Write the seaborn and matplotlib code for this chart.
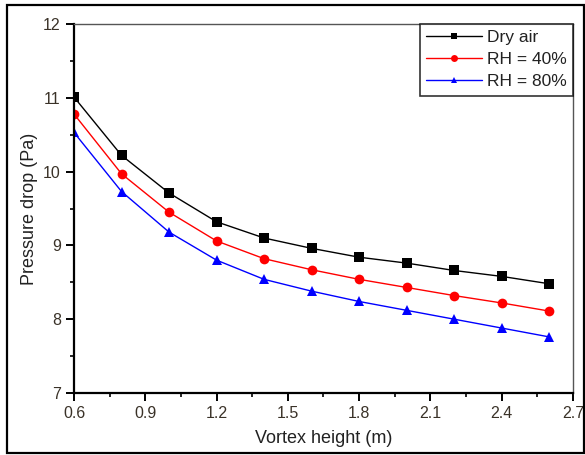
import matplotlib
matplotlib.use("Agg")
import matplotlib.pyplot as plt
import seaborn as sns
import pandas as pd
from matplotlib.patches import Rectangle
from matplotlib.ticker import MultipleLocator

height = [0.6, 0.8, 1.0, 1.2, 1.4, 1.6, 1.8, 2.0, 2.2, 2.4, 2.6]
dry_air = [11.01, 10.22, 9.71, 9.32, 9.10, 8.96, 8.84, 8.76, 8.66, 8.58, 8.48]
rh40 = [10.78, 9.97, 9.45, 9.06, 8.82, 8.67, 8.54, 8.43, 8.32, 8.22, 8.11]
rh80 = [10.53, 9.73, 9.18, 8.80, 8.54, 8.38, 8.24, 8.12, 8.00, 7.88, 7.76]
series_names = ["Dry air", "RH = 40%", "RH = 80%"]
xtick_vals = [0.6, 0.9, 1.2, 1.5, 1.8, 2.1, 2.4, 2.7]
xtick_labels = ["0.6", "0.9", "1.2", "1.5", "1.8", "2.1", "2.4", "2.7"]

df = pd.DataFrame({
    "h": height * 3,
    "dp": dry_air + rh40 + rh80,
    "s": [series_names[0]] * len(height) + [series_names[1]] * len(height) + [series_names[2]] * len(height),
})

sns.set_style("ticks")
plt.rcParams.update({
    "font.family": ["Liberation Sans", "DejaVu Sans"],
    "xtick.bottom": True, "ytick.left": True,
    "xtick.top": False, "ytick.right": False,
    "xtick.direction": "out", "ytick.direction": "out",
    "xtick.major.size": 6, "ytick.major.size": 6,
    "xtick.major.width": 1.4, "ytick.major.width": 1.4,
    "xtick.minor.size": 3, "ytick.minor.size": 3,
    "xtick.minor.width": 1.2, "ytick.minor.width": 1.2,
    "xtick.minor.visible": True, "ytick.minor.visible": True,
    "xtick.labelsize": 11.5, "ytick.labelsize": 11.5,
    "xtick.color": "black", "ytick.color": "black",
    "xtick.labelcolor": "#3a3228", "ytick.labelcolor": "#3a3228",
    "xtick.major.pad": 3.5, "ytick.major.pad": 3.5,
})

fig = plt.figure(figsize=(5.85, 4.55), dpi=100)
ax = fig.add_axes([74 / 585, 1 - 393 / 455, (573 - 74) / 585, (393 - 24) / 455])

sns.lineplot(data=df, x="h", y="dp", hue="s", style="s",
             palette={"Dry air": "black", "RH = 40%": "red", "RH = 80%": "blue"},
             markers={"Dry air": "s", "RH = 40%": "o", "RH = 80%": "^"},
             dashes=False, markersize=7, markeredgewidth=0, linewidth=1.0, ax=ax)

ax.set_xlim(0.6, 2.7)
ax.set_ylim(7, 12)
ax.set_xticks(xtick_vals)
ax.set_xticklabels(xtick_labels)
ax.xaxis.set_minor_locator(MultipleLocator(0.15))
ax.yaxis.set_major_locator(MultipleLocator(1))
ax.yaxis.set_minor_locator(MultipleLocator(0.5))

for side in ["left", "bottom"]:
    ax.spines[side].set_visible(True)
    ax.spines[side].set_color("black")
    ax.spines[side].set_linewidth(1.6)
for side in ["top", "right"]:
    ax.spines[side].set_visible(True)
    ax.spines[side].set_color("#555555")
    ax.spines[side].set_linewidth(1.0)

ax.set_xlabel("Vortex height (m)", fontsize=13, color="#222222", labelpad=6)
ax.set_ylabel("Pressure drop (Pa)", fontsize=13, color="#222222", labelpad=4)

leg = ax.legend(loc="upper right", fontsize=12.5, frameon=True, fancybox=False,
                borderaxespad=0, borderpad=0.35, handlelength=3.2, handletextpad=0.3,
                labelspacing=0.4)
leg.get_frame().set_edgecolor("black")
leg.get_frame().set_linewidth(1.2)
for t in leg.get_texts():
    t.set_color("#222222")
for h in leg.legend_handles:
    h.set_markersize(5)

fig.patches.append(Rectangle((7 / 585, 1 - 453 / 455), (584 - 7) / 585, (453 - 5) / 455,
                             transform=fig.transFigure, fill=False, edgecolor="black",
                             linewidth=1.6))

fig.savefig("out.png", dpi=100)
